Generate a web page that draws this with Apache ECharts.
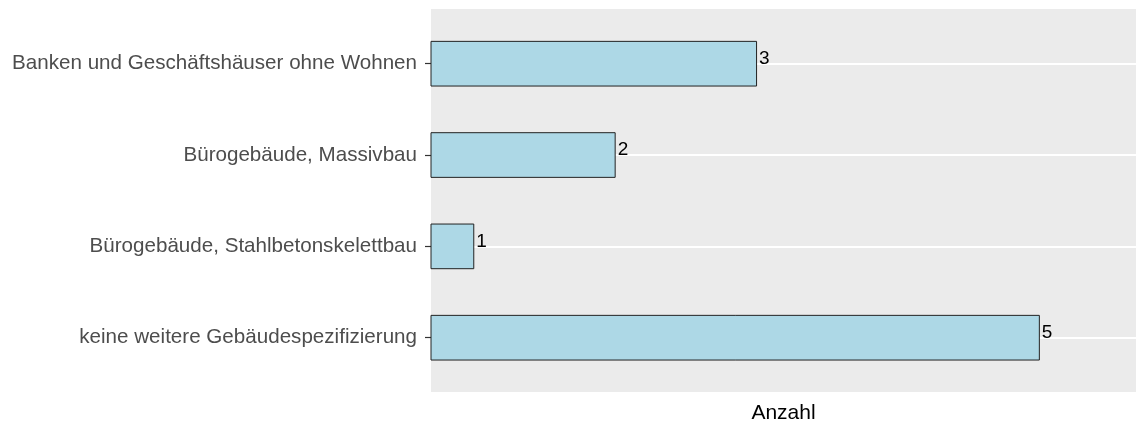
<!DOCTYPE html>
<html>
<head>
<meta charset="utf-8">
<script src="https://cdn.jsdelivr.net/npm/echarts@6/dist/echarts.min.js"></script>
<style>
html,body{margin:0;padding:0;background:#fff;}
#chart{width:1136px;height:423px;}
</style>
</head>
<body>
<div id="chart"></div>
<script>
const categories = [
  'Banken und Geschäftshäuser ohne Wohnen',
  'Bürogebäude, Massivbau',
  'Bürogebäude, Stahlbetonskelettbau',
  'keine weitere Gebäudespezifizierung'
];
const counts = [3, 2, 1, 5];
const axisTitle = 'Anzahl';

const FONT = '"Liberation Sans", Arial, sans-serif';
const chart = echarts.init(document.getElementById('chart'), null, {renderer: 'canvas'});
chart.setOption({
  animation: false,
  backgroundColor: '#ffffff',
  grid: [
    {left: 431, right: 0, top: 9, bottom: 31, show: true, backgroundColor: '#EBEBEB', borderWidth: 0, outerBoundsMode: 'none', containLabel: false},
    {left: 431, right: 0, top: 63.7, bottom: 85.3, show: false, outerBoundsMode: 'none', containLabel: false}
  ],
  xAxis: [
    {
      gridIndex: 0, type: 'value', min: 0, max: 1,
      axisLine: {show: false}, axisTick: {show: false}, axisLabel: {show: false}, splitLine: {show: false},
      name: axisTitle, nameLocation: 'middle', nameGap: 11,
      nameTextStyle: {color: '#000000', fontSize: 21, fontFamily: FONT, verticalAlign: 'top'}
    },
    {
      gridIndex: 1, type: 'value', min: 0.694, max: 5.68,
      show: false, splitLine: {show: false}
    }
  ],
  yAxis: [
    {gridIndex: 0, type: 'value', show: false, splitLine: {show: false}},
    {
      gridIndex: 1, type: 'category', data: categories, inverse: true, boundaryGap: false,
      axisLine: {show: false},
      axisTick: {show: true, length: 6, lineStyle: {color: '#333333', width: 1.2}},
      axisLabel: {color: '#4D4D4D', fontSize: 20.6, fontFamily: FONT, margin: 14},
      splitLine: {show: true, lineStyle: {color: '#FFFFFF', width: 2}}
    }
  ],
  series: [{
    type: 'bar',
    xAxisIndex: 1, yAxisIndex: 1,
    data: counts,
    barWidth: '50%',
    itemStyle: {color: '#ADD8E6', borderColor: '#222222', borderWidth: 1},
    label: {
      show: true, position: 'right', distance: 2, offset: [0, -5],
      color: '#000000', fontSize: 19, fontFamily: FONT
    }
  }]
});
</script>
</body>
</html>
